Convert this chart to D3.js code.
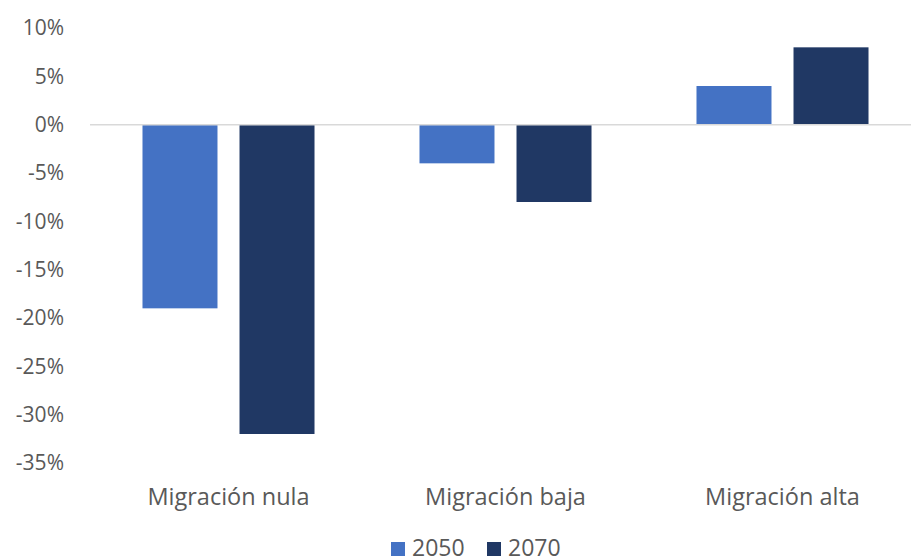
<!DOCTYPE html>
<html>
<head>
<meta charset="utf-8">
<script src="https://cdn.jsdelivr.net/npm/d3@7"></script>
<style>
  body { margin: 0; background: #fff; }
  text { font-family: "Open Sans", sans-serif; fill: #595959; }
</style>
</head>
<body>
<svg id="svg" width="911" height="559"></svg>
<script>
"use strict";

const categories = ["Migración nula", "Migración baja", "Migración alta"];
const seriesNames = ["2050", "2070"];
const values2050 = [-0.19, -0.04, 0.04];
const values2070 = [-0.32, -0.08, 0.08];
const yTicks = [0.10, 0.05, 0, -0.05, -0.10, -0.15, -0.20, -0.25, -0.30, -0.35];
const colors = ["#4472C4", "#203864"];

const svg = d3.select("#svg");

let rows = categories.map(function(c, i) {
  return { cat: c, vals: [values2050[i], values2070[i]] };
});

let x0 = d3.scaleBand()
  .domain(categories)
  .range([90, 921])
  .paddingInner(0.379)
  .paddingOuter(0.1895);

let x1 = d3.scaleBand()
  .domain(seriesNames)
  .range([0, x0.bandwidth()])
  .paddingInner(0.227);

let y = d3.scaleLinear()
  .domain([-0.35, 0.10])
  .range([463, 28]);

// plain hyphen for negatives, like the original
let fmt = function(v) {
  return d3.format(".0%")(v).replace("\u2212", "-");
};

// y tick labels, no axis line
let yAxis = d3.axisLeft(y)
  .tickValues(yTicks)
  .tickFormat(fmt)
  .tickSize(0)
  .tickPadding(0);

let gY = svg.append("g")
  .attr("transform", "translate(64,0)")
  .call(yAxis);
gY.select(".domain").remove();
gY.selectAll("text")
  .style("font-size", "21px")
  .style("font-family", "'Open Sans', sans-serif")
  .attr("fill", "#595959");

// bars
let groups = svg.selectAll("g.cat")
  .data(rows)
  .enter()
  .append("g")
  .attr("class", "cat")
  .attr("transform", function(d) { return "translate(" + x0(d.cat) + ",0)"; });

groups.selectAll("rect")
  .data(function(d) {
    return d.vals.map(function(v, j) { return { key: seriesNames[j], v: v, j: j }; });
  })
  .enter()
  .append("rect")
  .attr("x", function(d) { return x1(d.key); })
  .attr("width", x1.bandwidth())
  .attr("y", function(d) { return Math.min(y(d.v), y(0)); })
  .attr("height", function(d) { return Math.abs(y(d.v) - y(0)); })
  .attr("fill", function(d) { return colors[d.j]; });

// zero line
svg.append("line")
  .attr("x1", 90)
  .attr("x2", 911)
  .attr("y1", y(0))
  .attr("y2", y(0))
  .attr("stroke", "#d9d9d9")
  .attr("stroke-width", 1.5);

// category labels
svg.selectAll("text.cat-label")
  .data(categories)
  .enter()
  .append("text")
  .attr("class", "cat-label")
  .attr("x", function(d) { return x0(d) + x0.bandwidth() / 2; })
  .attr("y", 505)
  .attr("text-anchor", "middle")
  .style("font-size", "23.5px")
  .text(function(d) { return d; });

// legend
let legendX = [391, 487];
let legend = svg.selectAll("g.legend")
  .data(seriesNames)
  .enter()
  .append("g")
  .attr("class", "legend")
  .attr("transform", function(d, i) { return "translate(" + legendX[i] + ",0)"; });

legend.append("rect")
  .attr("x", 0)
  .attr("y", 542)
  .attr("width", 14)
  .attr("height", 14)
  .attr("fill", function(d, i) { return colors[i]; });

legend.append("text")
  .attr("x", 21)
  .attr("y", 556)
  .style("font-size", "23px")
  .text(function(d) { return d; });
</script>
</body>
</html>
